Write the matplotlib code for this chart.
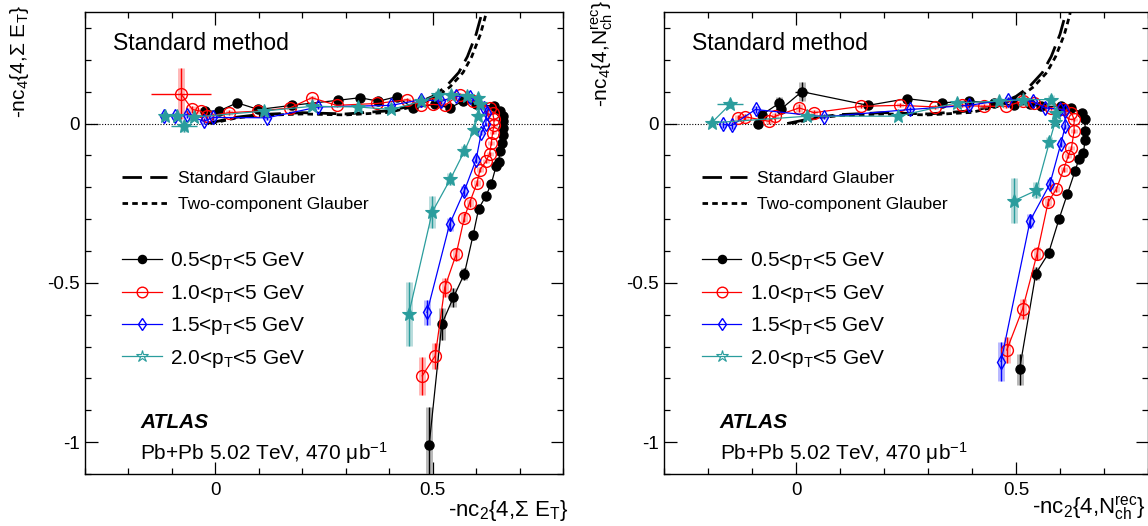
import matplotlib
matplotlib.use("Agg")
import matplotlib.pyplot as plt
from matplotlib.lines import Line2D
from matplotlib.ticker import MultipleLocator, FuncFormatter

plt.rcParams['font.family'] = ['Liberation Sans', 'DejaVu Sans']
plt.rcParams['mathtext.fontset'] = 'custom'
plt.rcParams['mathtext.rm'] = 'Liberation Sans'
plt.rcParams['mathtext.it'] = 'Liberation Sans:italic'
plt.rcParams['mathtext.bf'] = 'Liberation Sans:bold'
plt.rcParams['axes.unicode_minus'] = False

# ---------------- data: left panel (Sigma E_T) ----------------
blk_x_L = [-0.023, 0.008, 0.05, 0.099, 0.176, 0.283, 0.333, 0.375, 0.417, 0.455, 0.505, 0.539, 0.57, 0.60, 0.642, 0.655,
           0.661, 0.663, 0.663, 0.662, 0.660, 0.655, 0.652, 0.646, 0.635, 0.622, 0.606, 0.593, 0.573, 0.548, 0.521, 0.492]
blk_y_L = [0.039, 0.039, 0.065, 0.044, 0.057, 0.073, 0.081, 0.070, 0.084, 0.049, 0.060, 0.049, 0.070, 0.060, 0.054, 0.039,
           0.023, 0.007, -0.014, -0.035, -0.061, -0.085, -0.120, -0.134, -0.189, -0.229, -0.267, -0.351, -0.472, -0.545, -0.630, -1.009]
blk_e_L = [0.012, 0.01, 0.01, 0.006, 0.006, 0.006, 0.006, 0.006, 0.006, 0.006, 0.006, 0.006, 0.006, 0.006, 0.005, 0.005,
           0.005, 0.005, 0.005, 0.005, 0.006, 0.006, 0.007, 0.008, 0.009, 0.01, 0.012, 0.015, 0.02, 0.03, 0.05, 0.12]

red_x_L = [-0.079, -0.053, -0.034, -0.019, 0.031, 0.099, 0.172, 0.222, 0.279, 0.373, 0.442, 0.474, 0.501, 0.528, 0.562, 0.592,
           0.631, 0.638, 0.641, 0.641, 0.638, 0.635, 0.631, 0.623, 0.609, 0.602, 0.585, 0.573, 0.554, 0.528, 0.506, 0.476]
red_y_L = [0.093, 0.044, 0.039, 0.023, 0.034, 0.039, 0.049, 0.081, 0.057, 0.063, 0.075, 0.057, 0.060, 0.057, 0.091, 0.070,
           0.050, 0.034, 0.013, -0.006, -0.029, -0.061, -0.095, -0.118, -0.145, -0.187, -0.249, -0.295, -0.411, -0.514, -0.729, -0.792]
red_e_L = [0.08, 0.012, 0.01, 0.01, 0.008, 0.006, 0.006, 0.006, 0.006, 0.006, 0.006, 0.006, 0.006, 0.006, 0.006, 0.006,
           0.005, 0.005, 0.005, 0.005, 0.005, 0.006, 0.006, 0.007, 0.008, 0.01, 0.012, 0.015, 0.02, 0.03, 0.04, 0.06]
red_ex_L = [0.07, 0, 0, 0, 0, 0, 0, 0, 0, 0, 0, 0, 0, 0, 0, 0,
            0, 0, 0, 0, 0, 0, 0, 0, 0, 0, 0, 0, 0, 0, 0, 0]

blu_x_L = [-0.119, -0.092, -0.065, -0.027, -0.005, 0.119, 0.237, 0.405, 0.474, 0.520, 0.554, 0.585, 0.619, 0.625, 0.622,
           0.612, 0.600, 0.573, 0.539, 0.487]
blu_y_L = [0.023, 0.023, 0.028, 0.007, 0.019, 0.018, 0.052, 0.057, 0.075, 0.070, 0.086, 0.084, 0.049, 0.034, -0.003,
           -0.029, -0.113, -0.211, -0.316, -0.593]
blu_e_L = [0.01, 0.01, 0.01, 0.01, 0.008, 0.008, 0.008, 0.008, 0.008, 0.008, 0.008, 0.008, 0.006, 0.006, 0.006,
           0.008, 0.01, 0.015, 0.02, 0.04]

tea_x_L = [-0.115, -0.088, -0.073, -0.050, 0.111, 0.222, 0.329, 0.405, 0.474, 0.512, 0.543, 0.580, 0.604, 0.610, 0.604,
           0.595, 0.573, 0.541, 0.499, 0.445]
tea_y_L = [0.023, 0.023, -0.008, 0.020, 0.039, 0.054, 0.052, 0.044, 0.070, 0.091, 0.091, 0.085, 0.081, 0.060, 0.023,
           -0.019, -0.087, -0.174, -0.278, -0.598]
tea_e_L = [0.01, 0.01, 0.02, 0.01, 0.01, 0.008, 0.008, 0.008, 0.01, 0.01, 0.01, 0.01, 0.01, 0.01, 0.01,
           0.012, 0.015, 0.02, 0.05, 0.1]
tea_ex_L = [0, 0, 0.03, 0, 0, 0, 0, 0, 0, 0, 0, 0, 0, 0, 0,
            0, 0, 0, 0, 0]

# ---------------- data: right panel (N_ch^rec) ----------------
blk_x_R = [-0.087, -0.077, -0.039, -0.035, 0.013, 0.164, 0.252, 0.332, 0.393, 0.450, 0.496, 0.531, 0.557, 0.603, 0.626,
           0.649, 0.657, 0.657, 0.657, 0.653, 0.643, 0.634, 0.617, 0.598, 0.574, 0.545, 0.508]
blk_y_R = [-0.003, 0.028, 0.063, 0.044, 0.100, 0.057, 0.078, 0.065, 0.070, 0.065, 0.057, 0.060, 0.054, 0.054, 0.049,
           0.034, 0.013, -0.024, -0.052, -0.094, -0.111, -0.150, -0.220, -0.299, -0.407, -0.471, -0.772]
blk_e_R = [0.01, 0.01, 0.02, 0.01, 0.03, 0.006, 0.006, 0.006, 0.006, 0.006, 0.006, 0.006, 0.006, 0.006, 0.006,
           0.005, 0.005, 0.005, 0.006, 0.006, 0.007, 0.008, 0.01, 0.012, 0.015, 0.02, 0.05]
blk_ex_R = [0, 0, 0, 0, 0.015, 0, 0, 0, 0, 0, 0, 0, 0, 0, 0,
            0, 0, 0, 0, 0, 0, 0, 0, 0, 0, 0, 0]

red_x_R = [-0.131, -0.115, -0.062, -0.047, 0.007, 0.041, 0.148, 0.236, 0.317, 0.378, 0.427, 0.477, 0.515, 0.542, 0.580,
           0.607, 0.626, 0.632, 0.632, 0.626, 0.619, 0.608, 0.592, 0.573, 0.548, 0.515, 0.479]
red_y_R = [0.018, 0.021, 0.007, 0.023, 0.049, 0.034, 0.054, 0.057, 0.052, 0.057, 0.054, 0.054, 0.070, 0.065, 0.049,
           0.044, 0.034, 0.013, -0.024, -0.077, -0.101, -0.145, -0.205, -0.247, -0.409, -0.582, -0.711]
red_e_R = [0.01, 0.01, 0.01, 0.01, 0.012, 0.008, 0.006, 0.006, 0.006, 0.006, 0.006, 0.006, 0.006, 0.006, 0.006,
           0.005, 0.005, 0.005, 0.006, 0.006, 0.007, 0.008, 0.01, 0.012, 0.02, 0.03, 0.04]

blu_x_R = [-0.165, -0.146, -0.092, 0.064, 0.259, 0.393, 0.481, 0.538, 0.565, 0.600, 0.611, 0.612, 0.602, 0.577, 0.532, 0.466]
blu_y_R = [-0.003, -0.006, 0.044, 0.021, 0.044, 0.057, 0.075, 0.070, 0.049, 0.045, 0.039, -0.008, -0.063, -0.190, -0.305, -0.747]
blu_e_R = [0.01, 0.01, 0.01, 0.008, 0.008, 0.008, 0.008, 0.008, 0.008, 0.008, 0.008, 0.008, 0.01, 0.015, 0.02, 0.06]

tea_x_R = [-0.150, -0.192, 0.026, 0.232, 0.366, 0.462, 0.515, 0.580, 0.592, 0.589, 0.576, 0.546, 0.496]
tea_y_R = [0.060, 0.002, 0.023, 0.023, 0.065, 0.070, 0.075, 0.075, 0.034, 0.005, -0.058, -0.210, -0.242]
tea_e_R = [0.01, 0.01, 0.01, 0.01, 0.01, 0.01, 0.01, 0.015, 0.01, 0.012, 0.015, 0.025, 0.07]
tea_ex_R = [0.03, 0, 0, 0, 0, 0, 0, 0, 0, 0, 0, 0, 0]

# ---------------- Glauber model curves ----------------
std_gl_x = [-0.02, 0.05, 0.10, 0.20, 0.30, 0.40, 0.45, 0.50, 0.53, 0.56, 0.58, 0.60, 0.612, 0.62]
std_gl_y = [0.000, 0.020, 0.028, 0.034, 0.030, 0.040, 0.055, 0.085, 0.115, 0.160, 0.210, 0.280, 0.340, 0.400]
two_gl_x = [-0.01, 0.05, 0.10, 0.20, 0.30, 0.40, 0.46, 0.51, 0.54, 0.57, 0.59, 0.61, 0.622, 0.63]
two_gl_y = [0.000, 0.018, 0.025, 0.030, 0.027, 0.035, 0.055, 0.085, 0.115, 0.160, 0.210, 0.280, 0.340, 0.400]

series_labels = ['0.5<p$_\\mathrm{T}$<5 GeV', '1.0<p$_\\mathrm{T}$<5 GeV',
                 '1.5<p$_\\mathrm{T}$<5 GeV', '2.0<p$_\\mathrm{T}$<5 GeV']

TEAL = '#2a9d9d'
styles = [
    dict(color='black', marker='o', ms=6.5, mfc='black', mec='black', mew=1.0, sys='#808080'),
    dict(color='#ff0000', marker='o', ms=8.5, mfc='none', mec='#ff0000', mew=1.0, sys='#ff8080'),
    dict(color='#0000ff', marker='d', ms=7, mfc='none', mec='#0000ff', mew=1.0, sys='#8080ff'),
    dict(color=TEAL, marker='*', ms=10, mfc=TEAL, mec=TEAL, mew=0.8, sys='#80c0c0'),
]

fig = plt.figure(figsize=(11.48, 5.26), dpi=100)
axL = fig.add_axes([85 / 1148, 1 - 474 / 526, 478 / 1148, 462 / 526])
axR = fig.add_axes([664 / 1148, 1 - 474 / 526, 484 / 1148, 462 / 526])

panels = [
    (axL,
     [(blk_x_L, blk_y_L, blk_e_L, None), (red_x_L, red_y_L, red_e_L, red_ex_L),
      (blu_x_L, blu_y_L, blu_e_L, None), (tea_x_L, tea_y_L, tea_e_L, tea_ex_L)],
     '-nc$_2${4,Σ E$_\\mathrm{T}$}', '-nc$_4${4,Σ E$_\\mathrm{T}$}'),
    (axR,
     [(blk_x_R, blk_y_R, blk_e_R, blk_ex_R), (red_x_R, red_y_R, red_e_R, None),
      (blu_x_R, blu_y_R, blu_e_R, None), (tea_x_R, tea_y_R, tea_e_R, tea_ex_R)],
     '-nc$_2${4,N$^\\mathrm{rec}_\\mathrm{ch}$}', '-nc$_4${4,N$^\\mathrm{rec}_\\mathrm{ch}$}'),
]

fmt = FuncFormatter(lambda v, p: '%g' % v)

for ax, data, xlab, ylab in panels:
    ax.set_xlim(-0.3, 0.8)
    ax.set_ylim(-1.1, 0.35)
    ax.axhline(0, color='black', lw=0.8, ls=(0, (1, 1.5)), zorder=1)
    # Glauber curves
    ax.plot(std_gl_x, std_gl_y, color='black', lw=2.0, dashes=(7, 3), zorder=2)
    ax.plot(two_gl_x, two_gl_y, color='black', lw=2.0, dashes=(2, 1.5), zorder=2)
    # data
    for (x, y, e, ex), st in zip(data, styles):
        ax.errorbar(x, y, yerr=e, fmt='none', ecolor=st['sys'], elinewidth=5, alpha=0.55, zorder=3)
        ax.errorbar(x, y, yerr=e, xerr=ex, fmt='none', ecolor=st['color'], elinewidth=1.0, zorder=4)
        ax.plot(x, y, color=st['color'], lw=0.9, marker=st['marker'], ms=st['ms'],
                mfc=st['mfc'], mec=st['mec'], mew=st['mew'], zorder=5)
    # axes styling
    ax.xaxis.set_major_locator(MultipleLocator(0.5))
    ax.xaxis.set_minor_locator(MultipleLocator(0.1))
    ax.yaxis.set_major_locator(MultipleLocator(0.5))
    ax.yaxis.set_minor_locator(MultipleLocator(0.1))
    ax.xaxis.set_major_formatter(fmt)
    ax.yaxis.set_major_formatter(fmt)
    ax.tick_params(which='both', direction='in', top=True, right=True, labelsize=13.5, width=0.9)
    ax.tick_params(which='major', length=9)
    ax.tick_params(which='minor', length=4.5)
    ax.tick_params(axis='x', which='major', pad=6)
    ax.tick_params(axis='y', which='major', pad=4)
    for sp in ax.spines.values():
        sp.set_linewidth(1.0)
    ax.set_xlabel(xlab, fontsize=16, loc='right')
    ax.set_ylabel(ylab, fontsize=15, loc='top')
    ax.text(0.058, 0.918, 'Standard method', transform=ax.transAxes, fontsize=16.5, va='baseline')
    ax.text(0.115, 0.10, 'ATLAS', transform=ax.transAxes, fontsize=15, fontweight='bold', fontstyle='italic',
            va='baseline')
    ax.text(0.115, 0.03, 'Pb+Pb 5.02 TeV, 470 μb$^{-1}$', transform=ax.transAxes, fontsize=15, va='baseline')

    gl_handles = [Line2D([], [], color='black', lw=2.0, dashes=(7, 3)),
                  Line2D([], [], color='black', lw=2.0, dashes=(2, 1.5))]
    leg1 = ax.legend(gl_handles, ['Standard Glauber', 'Two-component Glauber'], loc='upper left',
                     bbox_to_anchor=(0.078, 0.657), frameon=False, fontsize=12.5, handlelength=2.6,
                     handletextpad=0.6, borderpad=0, borderaxespad=0, labelspacing=0.65)
    ax.add_artist(leg1)
    s_handles = [Line2D([], [], color=st['color'], lw=0.9, marker=st['marker'], ms=st['ms'] * 0.9,
                        mfc=('none' if st['marker'] == '*' else st['mfc']), mec=st['mec'], mew=st['mew'])
                 for st in styles]
    ax.legend(s_handles, series_labels, loc='upper left', bbox_to_anchor=(0.078, 0.484), frameon=False,
              fontsize=15, handlelength=1.9, handletextpad=0.4, borderpad=0, borderaxespad=0, labelspacing=0.5)

axL.xaxis.set_label_coords(1.012, -0.052)
axR.xaxis.set_label_coords(0.995, -0.045)
axL.yaxis.set_label_coords(-0.112, 1.015)
axR.yaxis.set_label_coords(-0.102, 1.025)

fig.savefig('out.png', dpi=100)
